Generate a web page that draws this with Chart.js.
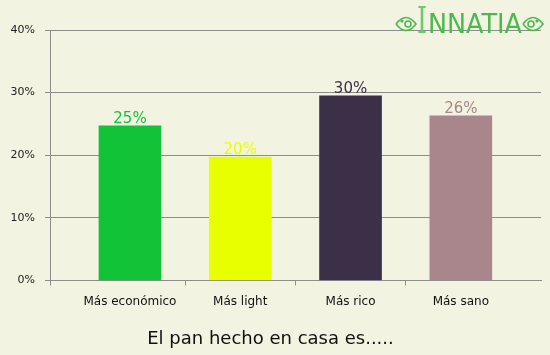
<!DOCTYPE html>
<html>
<head>
<meta charset="utf-8">
<script src="https://cdn.jsdelivr.net/npm/chart.js@4/dist/chart.umd.min.js"></script>
<style>
  html, body { margin: 0; padding: 0; background: #f3f3e2; }
  #wrap { width: 550px; height: 355px; position: relative; }
</style>
</head>
<body>
<div id="wrap"><canvas id="c" width="550" height="355"></canvas></div>
<script>
const categories = ['Más económico', 'Más light', 'Más rico', 'Más sano'];
const values = [24.7, 19.7, 29.5, 26.3];
const valueLabels = ['25%', '20%', '30%', '26%'];
const barColors = ['#13c337', '#e8ff00', '#3c3049', '#a8868b'];
const yTicks = [0, 10, 20, 30, 40];
const titleText = 'El pan hecho en casa es.....';

const GRID = '#8c8c8c';
const X_MIN = -0.725, X_MAX = 3.727;

const valueLabelPlugin = {
  id: 'valueLabels',
  afterDatasetsDraw(chart) {
    const ctx = chart.ctx;
    const meta = chart.getDatasetMeta(0);
    ctx.save();
    ctx.font = '15px "DejaVu Sans"';
    ctx.textAlign = 'center';
    ctx.textBaseline = 'alphabetic';
    meta.data.forEach((bar, i) => {
      ctx.fillStyle = barColors[i];
      ctx.fillText(valueLabels[i], bar.x, bar.y - 3);
    });
    ctx.restore();
  }
};

const logoPlugin = {
  id: 'logo',
  afterDraw(chart) {
    const ctx = chart.ctx;
    ctx.save();
    const green = '#4cb94f';
    ctx.textBaseline = 'alphabetic';
    ctx.textAlign = 'left';
    ctx.font = '38px "DejaVu Serif"';
    ctx.fillStyle = '#6acb6a';
    ctx.fillText('I', 417, 33, 10);
    ctx.fillStyle = green;
    ctx.font = '27px "DejaVu Sans"';
    ctx.fillText('NNATIA', 428, 33, 94);
    ctx.strokeStyle = green;
    ctx.fillStyle = green;
    function orn(cx, dir) {
      ctx.lineWidth = 1.6;
      ctx.beginPath();
      ctx.moveTo(cx - 10, 24);
      ctx.quadraticCurveTo(cx, 11, cx + 10, 24);
      ctx.quadraticCurveTo(cx, 37, cx - 10, 24);
      ctx.stroke();
      ctx.beginPath();
      ctx.arc(cx + dir * 2, 24, 3, 0, Math.PI * 2);
      ctx.stroke();
      ctx.beginPath();
      ctx.arc(cx - dir * 4, 21, 1.6, 0, Math.PI * 2);
      ctx.fill();
    }
    orn(406, 1);
    orn(533, -1);
    ctx.restore();
  }
};

new Chart(document.getElementById('c'), {
  type: 'bar',
  data: {
    datasets: [{
      data: categories.map((c, i) => ({ x: i, y: values[i] })),
      backgroundColor: barColors,
      borderWidth: 0,
      barThickness: 62
    }]
  },
  options: {
    responsive: false,
    animation: false,
    layout: { padding: { top: 30, right: 9, left: 0, bottom: 0 } },
    plugins: {
      legend: { display: false },
      tooltip: { enabled: false },
      title: {
        display: true,
        position: 'bottom',
        text: titleText,
        color: '#111',
        font: { family: '"DejaVu Sans"', size: 18, weight: 'normal' },
        padding: { top: 8, bottom: 5 }
      }
    },
    scales: {
      x: {
        type: 'linear',
        min: X_MIN,
        max: X_MAX,
        offset: false,
        afterBuildTicks(axis) {
          axis.ticks = [X_MIN, 0, 0.5, 1, 1.5, 2, 2.5, 3].map(v => ({ value: v }));
        },
        afterFit(axis) { axis.height = 40; },
        ticks: {
          autoSkip: false,
          maxRotation: 0,
          padding: 9,
          color: '#111',
          font: { family: '"DejaVu Sans"', size: 12 },
          callback(v) { return Number.isInteger(v) ? categories[v] : ''; }
        },
        grid: {
          offset: false,
          drawOnChartArea: false,
          drawTicks: true,
          tickLength: 5,
          color(ctx) { return (ctx.tick && ctx.tick.value % 1 !== 0) ? GRID : 'rgba(0,0,0,0)'; }
        },
        border: { display: true, color: GRID }
      },
      y: {
        min: 0,
        max: 40,
        afterBuildTicks(axis) { axis.ticks = yTicks.map(v => ({ value: v })); },
        afterFit(axis) { axis.width = 50; },
        ticks: {
          padding: 10,
          color: '#222',
          font: { family: '"DejaVu Sans"', size: 11 },
          callback(v) { return v + '%'; }
        },
        grid: { color: GRID, tickLength: 5 },
        border: { display: true, color: GRID }
      }
    }
  },
  plugins: [valueLabelPlugin, logoPlugin]
});
</script>
</body>
</html>
